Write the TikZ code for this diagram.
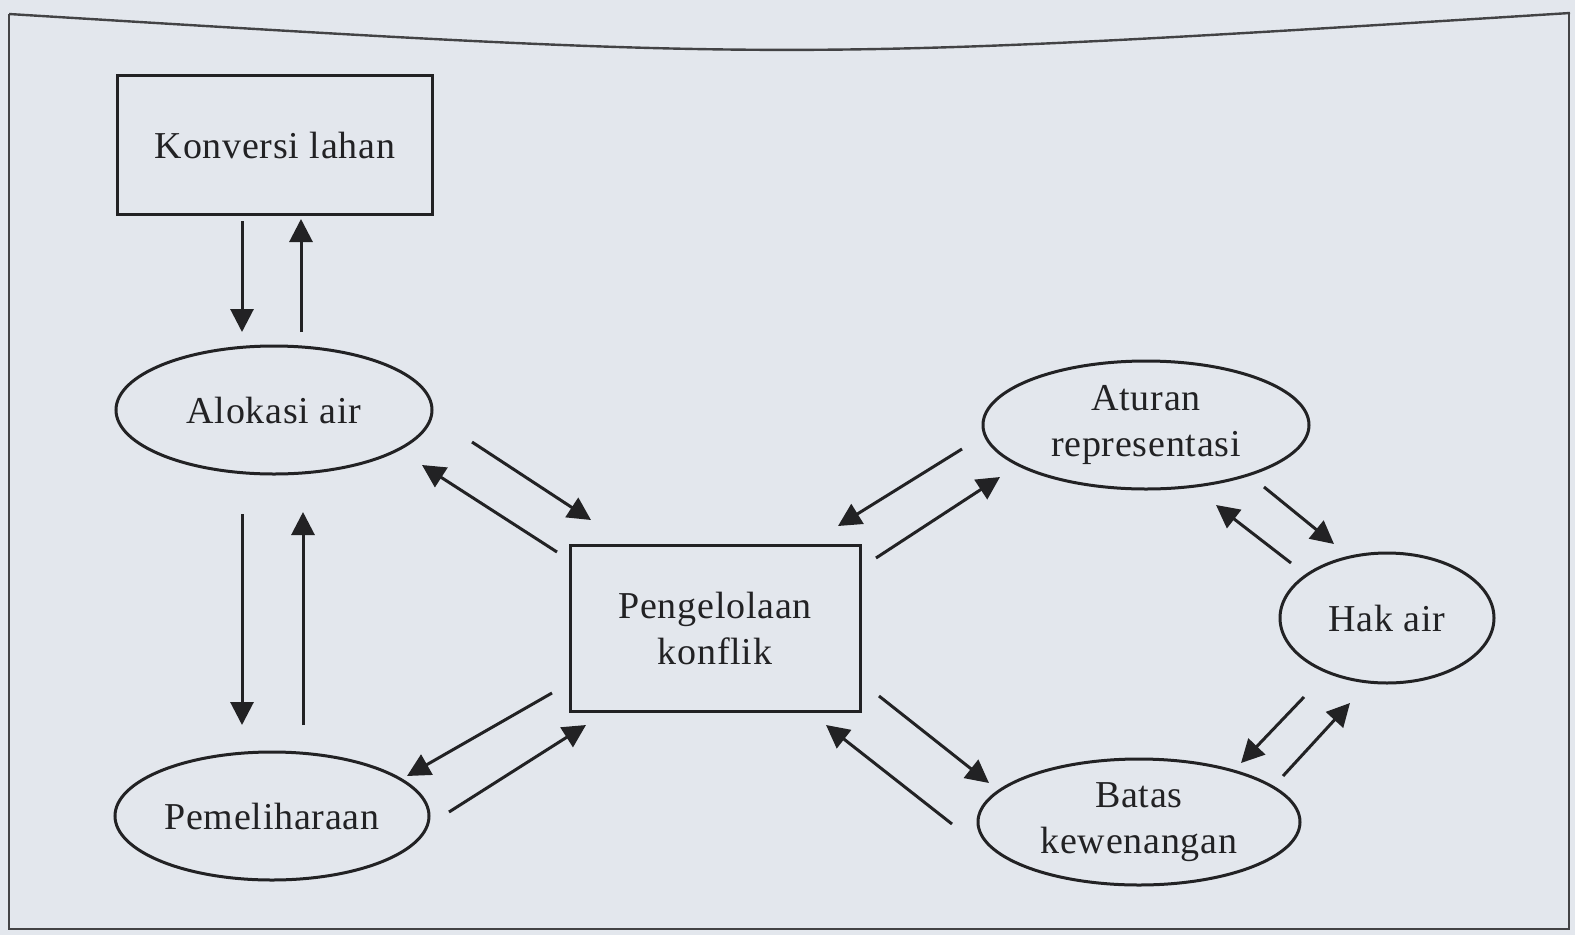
\documentclass[tikz,border=0pt]{standalone}
\usepackage{fontspec}
\setmainfont{Liberation Serif}[LetterSpace=2]
\usetikzlibrary{shapes.geometric,arrows.meta,calc}
\definecolor{paper}{RGB}{227,231,237}
\definecolor{ink}{RGB}{34,34,36}
\tikzset{
  box/.style={draw=ink,line width=3pt,rectangle,inner sep=0pt,align=center,text=ink,font=\fontsize{38}{46}\selectfont},
  oval/.style={draw=ink,line width=3pt,ellipse,inner sep=0pt,align=center,text=ink,font=\fontsize{38}{46}\selectfont},
  arr/.style={draw=ink,line width=3pt,-{Triangle[length=23pt,width=23pt]}},
  frame/.style={draw=ink!85,line width=2.4pt}
}
\begin{document}
\begin{tikzpicture}[x=1pt,y=-1pt]
\fill[paper] (0,0) rectangle (1575,935);
\useasboundingbox (0,0) rectangle (1575,935);
% frame
\draw[frame] (9,14) .. controls (790,62) .. (1570,13);
\draw[frame] (9,14) -- (9,929) -- (1569,929) -- (1569,13);
% nodes
\node[box,minimum width=315pt,minimum height=139pt] (konv) at (275,145) {Konversi lahan};
\node[oval,minimum width=316pt,minimum height=128pt] (alok) at (274,410) {Alokasi air};
\node[oval,minimum width=314pt,minimum height=128pt] (peme) at (272,816) {Pemeliharaan};
\node[box,minimum width=290pt,minimum height=166pt] (peng) at (715,628) {Pengelolaan\\konflik};
\node[oval,minimum width=326pt,minimum height=128pt] (atur) at (1146,425) {Aturan\\representasi};
\node[oval,minimum width=214pt,minimum height=130pt] (hak) at (1387,618) {Hak air};
\node[oval,minimum width=322pt,minimum height=126pt] (batas) at (1139,822) {Batas\\kewenangan};
% connectors
\draw[arr] ($(konv)+(-33,76)$) -- ($(alok)+(-32,-78)$);
\draw[arr] ($(alok)+(27,-78)$) -- ($(konv)+(26,74)$);
\draw[arr] ($(alok)+(-32,104)$) -- ($(peme)+(-30,-91)$);
\draw[arr] ($(peme)+(31,-91)$) -- ($(alok)+(29,102)$);
\draw[arr] ($(alok)+(198,32)$) -- ($(peng)+(-124,-108)$);
\draw[arr] ($(peng)+(-158,-76)$) -- ($(alok)+(148,55)$);
\draw[arr] ($(peng)+(-163,65)$) -- ($(peme)+(135,-40)$);
\draw[arr] ($(peme)+(177,-4)$) -- ($(peng)+(-129,97)$);
\draw[arr] ($(atur)+(-184,24)$) -- ($(peng)+(123,-102)$);
\draw[arr] ($(peng)+(161,-70)$) -- ($(atur)+(-146,52)$);
\draw[arr] ($(peng)+(164,68)$) -- ($(batas)+(-150,-39)$);
\draw[arr] ($(batas)+(-187,2)$) -- ($(peng)+(111,97)$);
\draw[arr] ($(atur)+(118,62)$) -- ($(hak)+(-53,-74)$);
\draw[arr] ($(hak)+(-96,-55)$) -- ($(atur)+(70,80)$);
\draw[arr] ($(hak)+(-83,79)$) -- ($(batas)+(102,-59)$);
\draw[arr] ($(batas)+(144,-46)$) -- ($(hak)+(-37,85)$);
\end{tikzpicture}
\end{document}
